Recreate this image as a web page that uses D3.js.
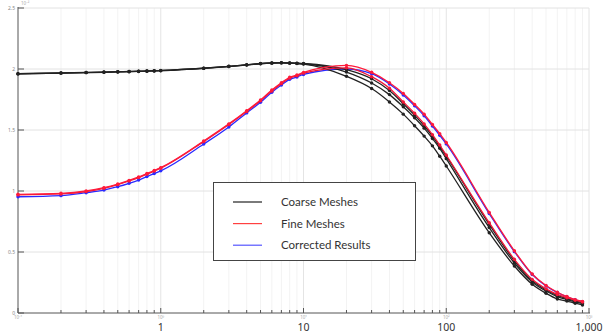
<!DOCTYPE html>
<html>
<head>
<meta charset="utf-8">
<script src="https://cdn.jsdelivr.net/npm/d3@7"></script>
<style>
  html, body { margin: 0; padding: 0; background: #fff; }
  svg { display: block; font-family: "Noto Sans", "Open Sans", sans-serif; }
</style>
</head>
<body>
<svg id="chart" width="608" height="336"></svg>
<script>
// ── Data ──
const xs = [0.1, 0.2, 0.3, 0.4, 0.5, 0.6, 0.7, 0.8, 0.9,
            1, 2, 3, 4, 5, 6, 7, 8, 9,
            10, 20, 30, 40, 50, 60, 70, 80, 90,
            100, 200, 300, 400, 500, 600, 700, 800, 900];

// coarse meshes (three black runs)
const coarse1 = [1.96, 1.966, 1.97, 1.973, 1.976, 1.978, 1.98, 1.982, 1.984,
                 1.986, 2.005, 2.02, 2.033, 2.043, 2.048, 2.05, 2.048, 2.045,
                 2.04, 1.94, 1.84, 1.73, 1.63, 1.535, 1.45, 1.37, 1.285,
                 1.205, 0.658, 0.385, 0.235, 0.161, 0.115, 0.098, 0.08, 0.066];
const coarse2 = [1.961, 1.967, 1.971, 1.974, 1.977, 1.979, 1.981, 1.983, 1.985,
                 1.987, 2.006, 2.021, 2.034, 2.044, 2.049, 2.051, 2.049, 2.046,
                 2.043, 1.975, 1.885, 1.79, 1.69, 1.6, 1.515, 1.43, 1.35,
                 1.265, 0.7, 0.41, 0.255, 0.18, 0.135, 0.11, 0.092, 0.078];
const coarse3 = [1.962, 1.968, 1.972, 1.975, 1.978, 1.98, 1.982, 1.984, 1.986,
                 1.988, 2.007, 2.022, 2.035, 2.045, 2.05, 2.052, 2.05, 2.048,
                 2.045, 1.995, 1.92, 1.823, 1.715, 1.622, 1.535, 1.45, 1.365,
                 1.285, 0.727, 0.428, 0.266, 0.19, 0.145, 0.118, 0.1, 0.085];

// fine meshes (two red runs)
const fine1 = [0.973, 0.981, 1.0, 1.027, 1.057, 1.087, 1.115, 1.143, 1.168,
               1.192, 1.41, 1.55, 1.658, 1.746, 1.828, 1.888, 1.932, 1.951,
               1.972, 2.03, 1.973, 1.888, 1.8, 1.71, 1.63, 1.545, 1.47,
               1.398, 0.825, 0.51, 0.32, 0.225, 0.17, 0.135, 0.11, 0.095];
const fine2 = [0.968, 0.976, 0.995, 1.022, 1.052, 1.082, 1.11, 1.138, 1.163,
               1.187, 1.405, 1.545, 1.652, 1.74, 1.82, 1.88, 1.925, 1.945,
               1.966, 2.01, 1.937, 1.842, 1.73, 1.637, 1.55, 1.462, 1.377,
               1.295, 0.74, 0.44, 0.276, 0.198, 0.152, 0.125, 0.105, 0.09];

// corrected results (blue)
const corrected = [0.953, 0.962, 0.986, 1.008, 1.035, 1.063, 1.09, 1.118, 1.143,
                   1.165, 1.385, 1.525, 1.64, 1.727, 1.81, 1.869, 1.915, 1.935,
                   1.955, 2.0, 1.962, 1.877, 1.787, 1.698, 1.617, 1.533, 1.457,
                   1.386, 0.815, 0.503, 0.315, 0.222, 0.168, 0.133, 0.108, 0.093];

const xMajor = [0.1, 1, 10, 100, 1000];
const xMajorLabels = ['', '1', '10', '100', '1,000'];
const xExpLabels = ['10\u207B\u00B9', '10\u2070', '10\u00B9', '10\u00B2', '10\u00B3'];
const yTicks = [0, 0.5, 1, 1.5, 2, 2.5];
const legendNames = ['Coarse Meshes', 'Fine Meshes', 'Corrected Results'];
const legendColors = ['#222222', '#ff4040', '#5555ff'];

// ── Layout ──
const svg = d3.select('#chart');
const x = d3.scaleLog().domain([0.1, 1000]).range([18, 589]);
const y = d3.scaleLinear().domain([0, 2.5]).range([313, 8]);

// minor positions for log axis
const xMinor = [];
[0.1, 1, 10, 100].forEach(d => { for (let k = 2; k <= 9; k++) xMinor.push(d * k); });

// ── Grid ──
const grid = svg.append('g');
grid.selectAll('line.vminor').data(xMinor).join('line')
  .attr('x1', d => x(d)).attr('x2', d => x(d))
  .attr('y1', y(0)).attr('y2', y(2.5))
  .attr('stroke', '#f3f3f3').attr('stroke-width', 1);
grid.selectAll('line.vmajor').data(xMajor.slice(1)).join('line')
  .attr('x1', d => x(d)).attr('x2', d => x(d))
  .attr('y1', y(0)).attr('y2', y(2.5))
  .attr('stroke', '#e4e4e4').attr('stroke-width', 1);
grid.selectAll('line.h').data(yTicks.slice(1)).join('line')
  .attr('x1', x(0.1)).attr('x2', x(1000))
  .attr('y1', d => y(d)).attr('y2', d => y(d))
  .attr('stroke', '#e2e2e2').attr('stroke-width', 1);

// ── Axes ──
const axes = svg.append('g').attr('stroke', '#555').attr('stroke-width', 1);
axes.append('line').attr('x1', x(0.1)).attr('x2', x(0.1)).attr('y1', y(0)).attr('y2', y(2.5) - 1);
axes.append('line').attr('x1', x(0.1)).attr('x2', x(1000) + 1).attr('y1', y(0)).attr('y2', y(0));
axes.selectAll('line.xm').data(xMinor).join('line')
  .attr('x1', d => x(d)).attr('x2', d => x(d))
  .attr('y1', y(0)).attr('y2', y(0) - 3);
axes.selectAll('line.xM').data(xMajor).join('line')
  .attr('x1', d => x(d)).attr('x2', d => x(d))
  .attr('y1', y(0)).attr('y2', y(0) - 5);
axes.selectAll('line.yM').data(yTicks).join('line')
  .attr('x1', x(0.1)).attr('x2', x(0.1) + 6)
  .attr('y1', d => y(d)).attr('y2', d => y(d));

// tick labels
svg.selectAll('text.xl').data(xMajor).join('text')
  .attr('x', d => x(d)).attr('y', 331)
  .attr('text-anchor', 'middle')
  .attr('fill', '#333').attr('font-size', '10.5px')
  .text((d, i) => xMajorLabels[i]);
svg.selectAll('text.xe').data(xMajor).join('text')
  .attr('x', d => x(d)).attr('y', 319)
  .attr('text-anchor', 'middle')
  .attr('fill', '#aaa').attr('font-size', '4.5px')
  .text((d, i) => xExpLabels[i]);
svg.selectAll('text.yl').data(yTicks).join('text')
  .attr('x', x(0.1) - 3).attr('y', d => y(d) + 1.5)
  .attr('text-anchor', 'end')
  .attr('fill', '#888').attr('font-size', '5px')
  .text(d => d);
svg.append('text')
  .attr('x', 21).attr('y', 5)
  .attr('fill', '#aaa').attr('font-size', '4.5px')
  .text('10\u207B\u00B2');

// ── Series ──
const series = [
  { values: corrected, color: '#2a2aff' },
  { values: coarse1, color: '#222222' },
  { values: coarse2, color: '#222222' },
  { values: coarse3, color: '#222222' },
  { values: fine2, color: '#f01838' },
  { values: fine1, color: '#ff1a3a' },
];

const line = d3.line()
  .x(d => x(d[0])).y(d => y(d[1]))
  .curve(d3.curveMonotoneX);

series.forEach(s => {
  const pts = xs.map((v, i) => [v, s.values[i]]);
  const g = svg.append('g');
  g.append('path')
    .attr('d', line(pts))
    .attr('fill', 'none').attr('stroke', s.color).attr('stroke-width', 1.3);
  g.selectAll('circle').data(pts).join('circle')
    .attr('cx', d => x(d[0])).attr('cy', d => y(d[1])).attr('r', 1.7)
    .attr('fill', s.color);
});

// ── Legend ──
const lg = svg.append('g');
lg.append('rect')
  .attr('x', 213.5).attr('y', 182.5).attr('width', 202).attr('height', 78)
  .attr('fill', '#fff').attr('stroke', '#444').attr('stroke-width', 1);
legendNames.forEach((name, i) => {
  const ly = 202 + i * 21.6;
  lg.append('line')
    .attr('x1', 233).attr('x2', 262).attr('y1', ly).attr('y2', ly)
    .attr('stroke', legendColors[i]).attr('stroke-width', 1.2);
  lg.append('text')
    .attr('x', 281).attr('y', ly + 4)
    .attr('fill', '#333').attr('font-size', '11.5px')
    .attr('font-family', 'Lato, "Noto Sans", sans-serif')
    .text(name);
});
</script>
</body>
</html>
